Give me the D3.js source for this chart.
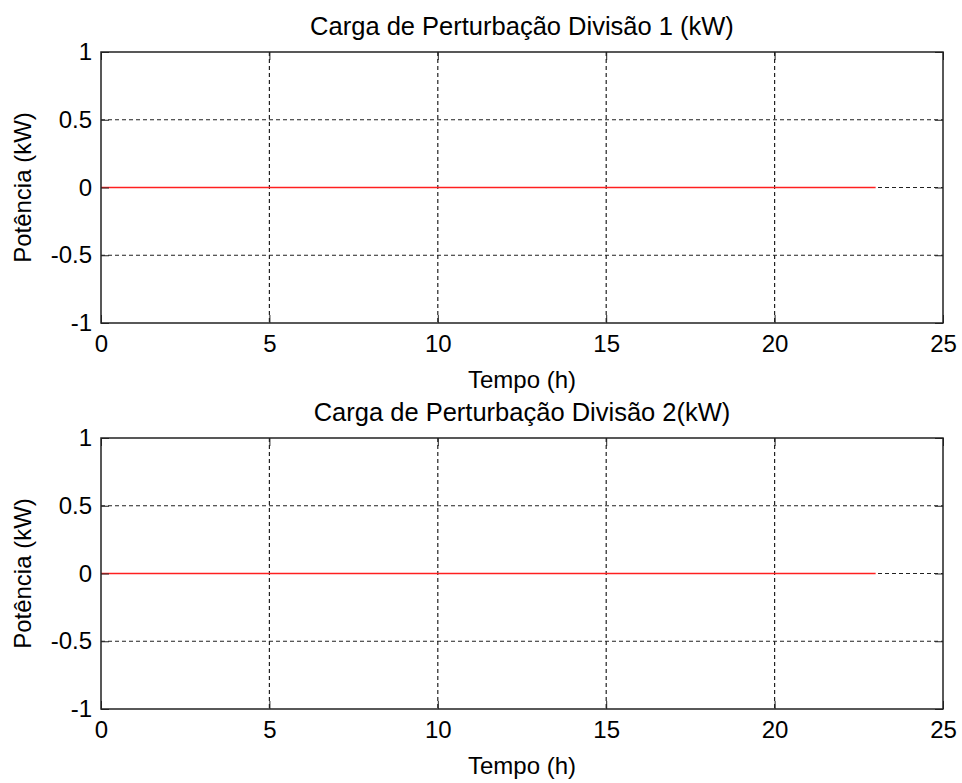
<!DOCTYPE html>
<html lang="pt">
<head>
  <meta charset="UTF-8">
  <title>Carga de Perturbação</title>
  <style>
    body { margin: 0; background: #fff; }
    svg { display: block; font-family: "Liberation Sans", Arial, sans-serif; }
  </style>
</head>
<body>
  <script src="https://cdn.jsdelivr.net/npm/d3@7/dist/d3.min.js"></script>
  <script>
    // dados
    let titles = ["Carga de Perturbação Divisão 1 (kW)", "Carga de Perturbação Divisão 2(kW)"];
    let xTicks = [0, 5, 10, 15, 20, 25];
    let yTicks = [-1, -0.5, 0, 0.5, 1];
    let tempo = [0, 23];
    let carga1 = [0, 0];
    let carga2 = [0, 0];
    let series = [carga1, carga2];

    let width = 962, height = 783;
    let left = 101, right = 943;
    let tops = [52, 438], plotH = 271;

    let svg = d3.select("body")
      .append("svg")
      .attr("width", width)
      .attr("height", height);

    let x = d3.scaleLinear().domain([0, 25]).range([left, right]);

    tops.forEach((top, k) => {
      let y = d3.scaleLinear().domain([-1, 1]).range([top + plotH, top]);
      let g = svg.append("g");

      // grelha
      g.selectAll(".gx")
        .data(xTicks.slice(1, -1))
        .enter()
        .append("line")
        .attr("x1", d => x(d)).attr("x2", d => x(d))
        .attr("y1", top).attr("y2", top + plotH)
        .attr("stroke", "#222")
        .attr("stroke-width", 1.2)
        .attr("stroke-dasharray", "4,3");
      g.selectAll(".gy")
        .data(yTicks.slice(1, -1))
        .enter()
        .append("line")
        .attr("x1", left).attr("x2", right)
        .attr("y1", d => y(d)).attr("y2", d => y(d))
        .attr("stroke", "#222")
        .attr("stroke-width", 1.2)
        .attr("stroke-dasharray", "4,3");

      // linha de dados
      let line = d3.line()
        .x((d, i) => x(tempo[i]))
        .y(d => y(d));
      g.append("path")
        .datum(series[k])
        .attr("d", line)
        .attr("fill", "none")
        .attr("stroke", "#ff2020")
        .attr("stroke-width", 1.5);

      // eixos (ticks para dentro, como no MATLAB)
      g.append("g")
        .attr("transform", "translate(0," + (top + plotH) + ")")
        .call(d3.axisBottom(x).tickValues(xTicks).tickSizeInner(-8).tickSizeOuter(0).tickPadding(12).tickFormat(d3.format("d")));
      g.append("g")
        .attr("transform", "translate(0," + top + ")")
        .call(d3.axisTop(x).tickValues(xTicks).tickSizeInner(-8).tickSizeOuter(0).tickFormat(""));
      g.append("g")
        .attr("transform", "translate(" + left + ",0)")
        .call(d3.axisLeft(y).tickValues(yTicks).tickSizeInner(-8).tickSizeOuter(0).tickPadding(9).tickFormat(d => d));
      g.append("g")
        .attr("transform", "translate(" + right + ",0)")
        .call(d3.axisRight(y).tickValues(yTicks).tickSizeInner(-8).tickSizeOuter(0).tickFormat(""));

      g.selectAll(".domain").remove();
      g.selectAll(".tick line").attr("stroke", "#222");
      g.selectAll(".tick text")
        .attr("fill", "#000")
        .style("font-size", "24px")
        .style("font-family", "'Liberation Sans', Arial, sans-serif");

      g.append("rect")
        .attr("x", left).attr("y", top)
        .attr("width", right - left).attr("height", plotH)
        .attr("fill", "none")
        .attr("stroke", "#222")
        .attr("stroke-width", 1.5);

      // textos
      g.append("text")
        .attr("x", (left + right) / 2)
        .attr("y", top - 17)
        .attr("text-anchor", "middle")
        .style("font-size", "25.5px")
        .text(titles[k]);
      g.append("text")
        .attr("x", (left + right) / 2)
        .attr("y", top + plotH + 65)
        .attr("text-anchor", "middle")
        .style("font-size", "24px")
        .text("Tempo (h)");
      g.append("text")
        .attr("transform", "translate(31," + (top + plotH / 2) + ") rotate(-90)")
        .attr("text-anchor", "middle")
        .style("font-size", "24px")
        .text("Potência (kW)");
    });
  </script>
</body>
</html>
